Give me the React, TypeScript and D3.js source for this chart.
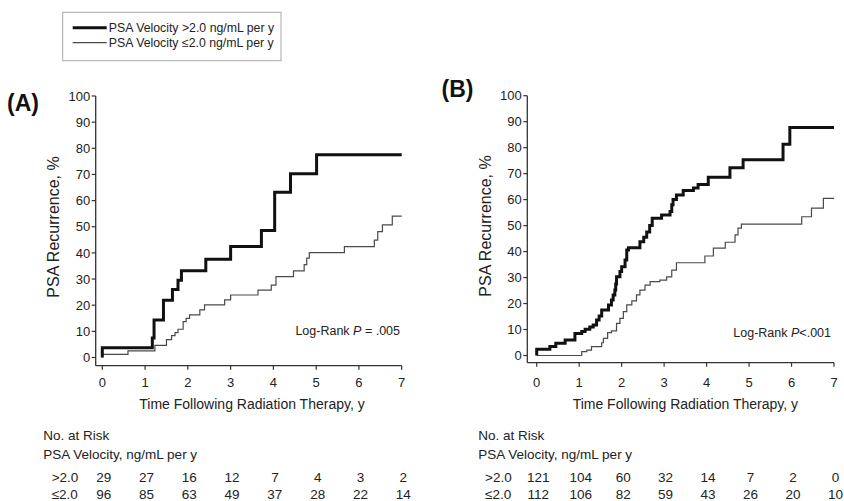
import React from "react";
import * as d3 from "d3";

// ---- data -------------------------------------------------------------
const years = [0, 1, 2, 3, 4, 5, 6, 7];
const percentTicks = [0, 10, 20, 30, 40, 50, 60, 70, 80, 90, 100];

const groupNames = ["PSA Velocity >2.0 ng/mL per y", "PSA Velocity \u22642.0 ng/mL per y"];
const riskRowLabels = [">2.0", "\u22642.0"];

// Cohort A: cumulative PSA recurrence (%) at each event time (y)
const aHighTime = [0, 0, 1.17, 1.21, 1.43, 1.64, 1.77, 1.85, 2.42, 3.0, 3.72, 4.03, 4.4, 5.01, 7.0];
const aHighPct = [0, 3.7, 7.5, 14.3, 21.9, 26.0, 29.5, 33.2, 37.6, 42.4, 48.6, 63.2, 70.3, 77.5, 77.5];

const aLowTime = [0, 0, 0.6, 1.23, 1.5, 1.62, 1.7, 1.77, 1.89, 1.96, 2.04, 2.28, 2.39, 2.86, 3.0, 3.64, 3.95, 4.06, 4.47, 4.72, 4.78, 4.84, 5.66, 6.36, 6.44, 6.55, 6.78, 7.0];
const aLowPct = [0, 1.2, 2.5, 4.6, 6.8, 8.4, 9.5, 10.8, 13.7, 15.0, 16.3, 18.2, 20.1, 22.0, 23.9, 25.8, 27.7, 30.9, 33.1, 35.5, 38.0, 40.1, 42.4, 44.9, 48.1, 50.7, 54.1, 54.1];

// Cohort B
const bHighTime = [0, 0, 0.31, 0.45, 0.67, 0.9, 1.06, 1.14, 1.25, 1.33, 1.41, 1.47, 1.53, 1.69, 1.76, 1.8, 1.84, 1.86, 1.88, 1.96, 2.0, 2.08, 2.12, 2.16, 2.43, 2.52, 2.59, 2.66, 2.72, 2.94, 3.14, 3.18, 3.21, 3.29, 3.45, 3.69, 3.8, 4.04, 4.55, 4.86, 5.8, 5.96, 7.0];
const bHighPct = [0, 2.4, 3.5, 4.7, 6.0, 8.5, 9.2, 10.1, 11.0, 11.7, 13.7, 15.2, 17.5, 19.4, 21.4, 23.3, 25.2, 27.5, 30.3, 32.3, 34.2, 36.8, 40.6, 41.5, 43.8, 45.5, 47.5, 50.0, 52.8, 54.1, 55.4, 58.0, 60.0, 61.8, 63.5, 64.5, 65.8, 68.6, 72.3, 75.3, 81.3, 87.8, 87.8];

const bLowTime = [0, 1.06, 1.18, 1.29, 1.53, 1.57, 1.67, 1.76, 1.88, 1.96, 2.04, 2.12, 2.24, 2.35, 2.43, 2.55, 2.67, 2.9, 3.06, 3.18, 3.29, 3.96, 4.16, 4.44, 4.67, 4.74, 4.82, 6.24, 6.47, 6.75, 7.0];
const bLowPct = [0, 1.5, 2.1, 3.4, 4.9, 6.6, 8.8, 9.5, 12.4, 14.3, 16.9, 19.5, 21.0, 23.3, 25.2, 27.1, 28.4, 29.0, 30.3, 32.9, 35.7, 38.3, 41.3, 43.6, 46.4, 49.0, 50.6, 53.4, 56.7, 60.5, 60.5];

// Number at risk at each year
const aRiskHigh = [29, 27, 16, 12, 7, 4, 3, 2];
const aRiskLow = [96, 85, 63, 49, 37, 28, 22, 14];
const bRiskHigh = [121, 104, 60, 32, 14, 7, 2, 0];
const bRiskLow = [112, 106, 82, 59, 43, 26, 20, 10];

const pValueA = " = .005";
const pValueB = "<.001";

// ---- layout -----------------------------------------------------------
const FONT = "'Liberation Sans', Arial, Helvetica, sans-serif";
const INK = "#222";
const AXIS = "#333";

type Layout = {
  x0: number; x1: number; y0: number; y1: number;
  axisX: number; axisY: number;
  tagX: number; tagY: number;
  yTitleX: number; yTitleY: number;
  tickBase: number; xTitleBase: number;
  lrBase: number; lrRight: number;
  riskX: number; rowLabelX: number;
};

type PanelSpec = {
  tag: string;
  high: [number[], number[]];
  low: [number[], number[]];
  risk: [number[], number[]];
  pText: string;
  L: Layout;
};

const panels: PanelSpec[] = [
  {
    tag: "(A)",
    high: [aHighTime, aHighPct],
    low: [aLowTime, aLowPct],
    risk: [aRiskHigh, aRiskLow],
    pText: pValueA,
    L: {
      x0: 102.3, x1: 401.7, y0: 357.5, y1: 96,
      axisX: 95.7, axisY: 365.7,
      tagX: 7, tagY: 110.5,
      yTitleX: 59, yTitleY: 227,
      tickBase: 387, xTitleBase: 409,
      lrBase: 335, lrRight: 400,
      riskX: 43.3, rowLabelX: 51.7,
    },
  },
  {
    tag: "(B)",
    high: [bHighTime, bHighPct],
    low: [bLowTime, bLowPct],
    risk: [bRiskHigh, bRiskLow],
    pText: pValueB,
    L: {
      x0: 536.7, x1: 834, y0: 355.5, y1: 95.7,
      axisX: 527.3, axisY: 362.7,
      tagX: 441.5, tagY: 97,
      yTitleX: 491, yTitleY: 226,
      tickBase: 386.7, xTitleBase: 409,
      lrBase: 336.5, lrRight: 831,
      riskX: 478.3, rowLabelX: 485,
    },
  },
];

function KMPanel({ p }: { p: PanelSpec }) {
  const L = p.L;
  const x = d3.scaleLinear().domain([0, 7]).range([L.x0, L.x1]);
  const y = d3.scaleLinear().domain([0, 100]).range([L.y0, L.y1]);
  const step = d3
    .line<[number, number]>()
    .x((d) => x(d[0]))
    .y((d) => y(d[1]))
    .curve(d3.curveStepAfter);
  const hi = d3.zip(p.high[0], p.high[1]) as [number, number][];
  const lo = d3.zip(p.low[0], p.low[1]) as [number, number][];
  const riskBase = [482, 499];

  return (
    <g fontFamily={FONT} fill={INK}>
      <text x={L.tagX} y={L.tagY} fontSize={23} fontWeight="bold" fill="#111">
        {p.tag}
      </text>

      {/* y axis */}
      <line x1={L.axisX} x2={L.axisX} y1={y(100)} y2={L.axisY} stroke={AXIS} strokeWidth={1.3} />
      {percentTicks.map((v) => (
        <g key={"y" + v}>
          <line x1={L.axisX - 4} x2={L.axisX} y1={y(v)} y2={y(v)} stroke={AXIS} strokeWidth={1.2} />
          <text x={L.axisX - 5.5} y={y(v)} dy="0.36em" textAnchor="end" fontSize={13}>
            {v}
          </text>
        </g>
      ))}
      <text
        transform={`translate(${L.yTitleX},${L.yTitleY}) rotate(-90)`}
        textAnchor="middle"
        fontSize={16}
      >
        PSA Recurrence, %
      </text>

      {/* x axis */}
      <line x1={L.axisX} x2={x(7)} y1={L.axisY} y2={L.axisY} stroke={AXIS} strokeWidth={1.3} />
      {years.map((t) => (
        <g key={"x" + t}>
          <line x1={x(t)} x2={x(t)} y1={L.axisY} y2={L.axisY + 4} stroke={AXIS} strokeWidth={1.2} />
          <text x={x(t)} y={L.tickBase} textAnchor="middle" fontSize={13}>
            {t}
          </text>
        </g>
      ))}
      <text x={(x(0) + x(7)) / 2} y={L.xTitleBase} textAnchor="middle" fontSize={14}>
        Time Following Radiation Therapy, y
      </text>

      {/* survival curves */}
      <path d={step(lo) || ""} fill="none" stroke="#4a4a4a" strokeWidth={1.2} />
      <path d={step(hi) || ""} fill="none" stroke="#111" strokeWidth={3} />

      <text x={L.lrRight} y={L.lrBase} textAnchor="end" fontSize={12.5}>
        Log-Rank <tspan fontStyle="italic">P</tspan>
        {p.pText}
      </text>

      {/* number at risk table */}
      <text x={L.riskX} y={440} fontSize={13.5}>No. at Risk</text>
      <text x={L.riskX} y={459} fontSize={13.5}>PSA Velocity, ng/mL per y</text>
      {p.risk.map((row, r) => (
        <g key={"r" + r}>
          <text x={L.rowLabelX} y={riskBase[r]} fontSize={13.5}>
            {riskRowLabels[r]}
          </text>
          {row.map((n, i) => (
            <text key={i} x={x(years[i]) + 1.5} y={riskBase[r]} textAnchor="middle" fontSize={13.5}>
              {n}
            </text>
          ))}
        </g>
      ))}
    </g>
  );
}

function Legend() {
  const rows = [
    { y: 27.7, w: 3, c: "#111" },
    { y: 42.7, w: 1.2, c: "#4a4a4a" },
  ];
  return (
    <g fontFamily={FONT} fill={INK}>
      <rect x={62.7} y={12.3} width={218.3} height={48.4} fill="none" stroke="#a8a8a8" strokeWidth={1} />
      {rows.map((r, i) => (
        <g key={i}>
          <line x1={72.7} x2={106.7} y1={r.y} y2={r.y} stroke={r.c} strokeWidth={r.w} />
          <text x={108.8} y={r.y + 4} fontSize={12.3}>
            {groupNames[i]}
          </text>
        </g>
      ))}
    </g>
  );
}

export default function App() {
  return (
    <svg
      width={844}
      height={501}
      viewBox="0 0 844 501"
      style={{ position: "fixed", left: 0, top: 0, background: "#fff" }}
    >
      <rect width={844} height={501} fill="#fff" />
      <Legend />
      {panels.map((p) => (
        <KMPanel key={p.tag} p={p} />
      ))}
    </svg>
  );
}
